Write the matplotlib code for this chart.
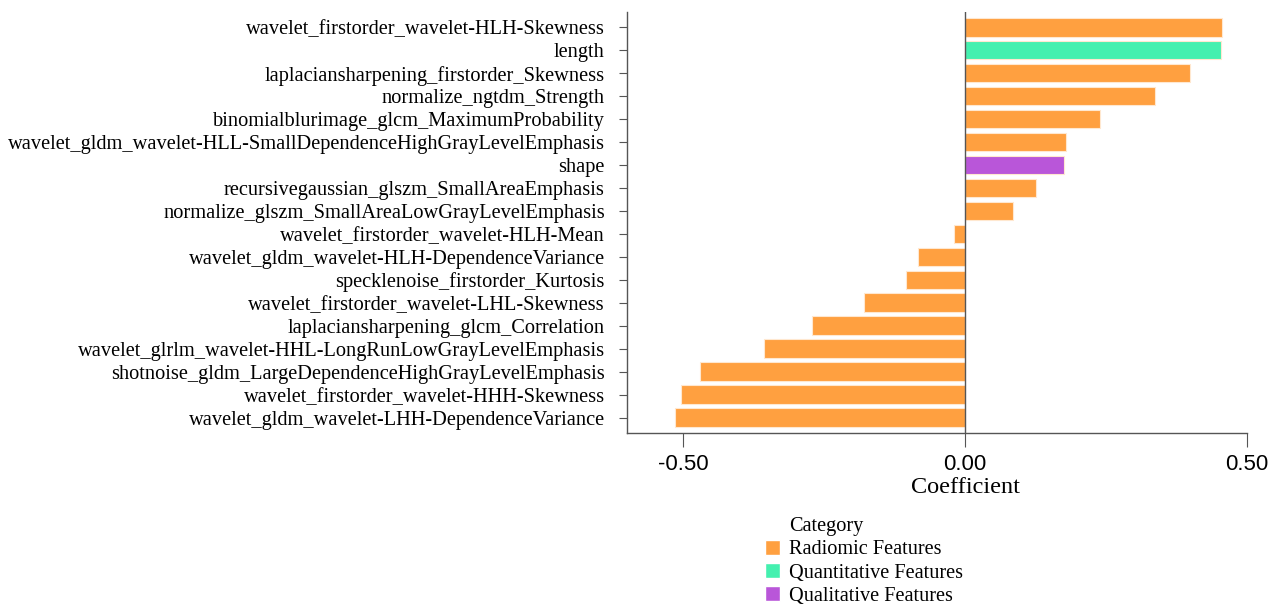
import matplotlib.pyplot as plt
from matplotlib.patches import Patch

# features listed top to bottom
features = [
    "wavelet_firstorder_wavelet-HLH-Skewness",
    "length",
    "laplaciansharpening_firstorder_Skewness",
    "normalize_ngtdm_Strength",
    "binomialblurimage_glcm_MaximumProbability",
    "wavelet_gldm_wavelet-HLL-SmallDependenceHighGrayLevelEmphasis",
    "shape",
    "recursivegaussian_glszm_SmallAreaEmphasis",
    "normalize_glszm_SmallAreaLowGrayLevelEmphasis",
    "wavelet_firstorder_wavelet-HLH-Mean",
    "wavelet_gldm_wavelet-HLH-DependenceVariance",
    "specklenoise_firstorder_Kurtosis",
    "wavelet_firstorder_wavelet-LHL-Skewness",
    "laplaciansharpening_glcm_Correlation",
    "wavelet_glrlm_wavelet-HHL-LongRunLowGrayLevelEmphasis",
    "shotnoise_gldm_LargeDependenceHighGrayLevelEmphasis",
    "wavelet_firstorder_wavelet-HHH-Skewness",
    "wavelet_gldm_wavelet-LHH-DependenceVariance",
]
coefs = [0.457, 0.455, 0.400, 0.338, 0.240, 0.179, 0.176, 0.126, 0.085,
         -0.019, -0.084, -0.104, -0.179, -0.271, -0.357, -0.470, -0.505, -0.515]
cats = ["Radiomic", "Quantitative", "Radiomic", "Radiomic", "Radiomic", "Radiomic",
        "Qualitative", "Radiomic", "Radiomic", "Radiomic", "Radiomic", "Radiomic",
        "Radiomic", "Radiomic", "Radiomic", "Radiomic", "Radiomic", "Radiomic"]

cat_names = ["Radiomic", "Quantitative", "Qualitative"]
cat_colors = {"Radiomic": "#FFA040", "Quantitative": "#44F0AF", "Qualitative": "#B956D9"}

serif = "Liberation Serif"
sans = "Liberation Sans"

fig = plt.figure(figsize=(12.78, 6.07), dpi=100)
ax = fig.add_axes([0.4906, 0.287, 0.4849, 0.693])

n = len(features)
ypos = [n - 1 - i for i in range(n)]
ax.barh(ypos, coefs, height=0.82, color=[cat_colors[c] for c in cats],
        edgecolor="#FFE8D0", linewidth=0.8, zorder=2)
ax.axvline(0, color="#555555", lw=1.0, zorder=3)

ax.set_xlim(-0.6, 0.5)
ax.set_ylim(-0.65, n - 1 + 0.65)
ax.set_yticks(ypos)
ax.set_yticklabels(features, fontfamily=serif, fontsize=14.7)
ax.set_xticks([-0.5, 0.0, 0.5])
ax.set_xticklabels(["-0.50", "0.00", "0.50"], fontfamily=sans, fontsize=16)
ax.set_xlabel("Coefficient", fontfamily=serif, fontsize=17.5)
# the title sits under the zero line, not under the middle of the axis
ax.xaxis.set_label_coords(0.6 / 1.1, -0.105)

for s in ["top", "right"]:
    ax.spines[s].set_visible(False)
for s in ["left", "bottom"]:
    ax.spines[s].set_color("#555555")
    ax.spines[s].set_linewidth(1.0)
ax.tick_params(axis="y", length=6, color="#555555", pad=10)
ax.tick_params(axis="x", length=10, color="#555555", pad=5)

handles = [Patch(facecolor="none", edgecolor="none")]
labels = ["Category"]
for c in cat_names:
    handles.append(Patch(facecolor=cat_colors[c], edgecolor="white"))
    labels.append(c + " Features")
leg = fig.legend(handles, labels, loc="upper left", bbox_to_anchor=(0.592, 0.162),
                 frameon=False, prop={"family": serif, "size": 14.6},
                 handlelength=0.75, handleheight=0.75, handletextpad=0.45,
                 labelspacing=0.18, borderaxespad=0)

fig.savefig("out.png", dpi=100)
